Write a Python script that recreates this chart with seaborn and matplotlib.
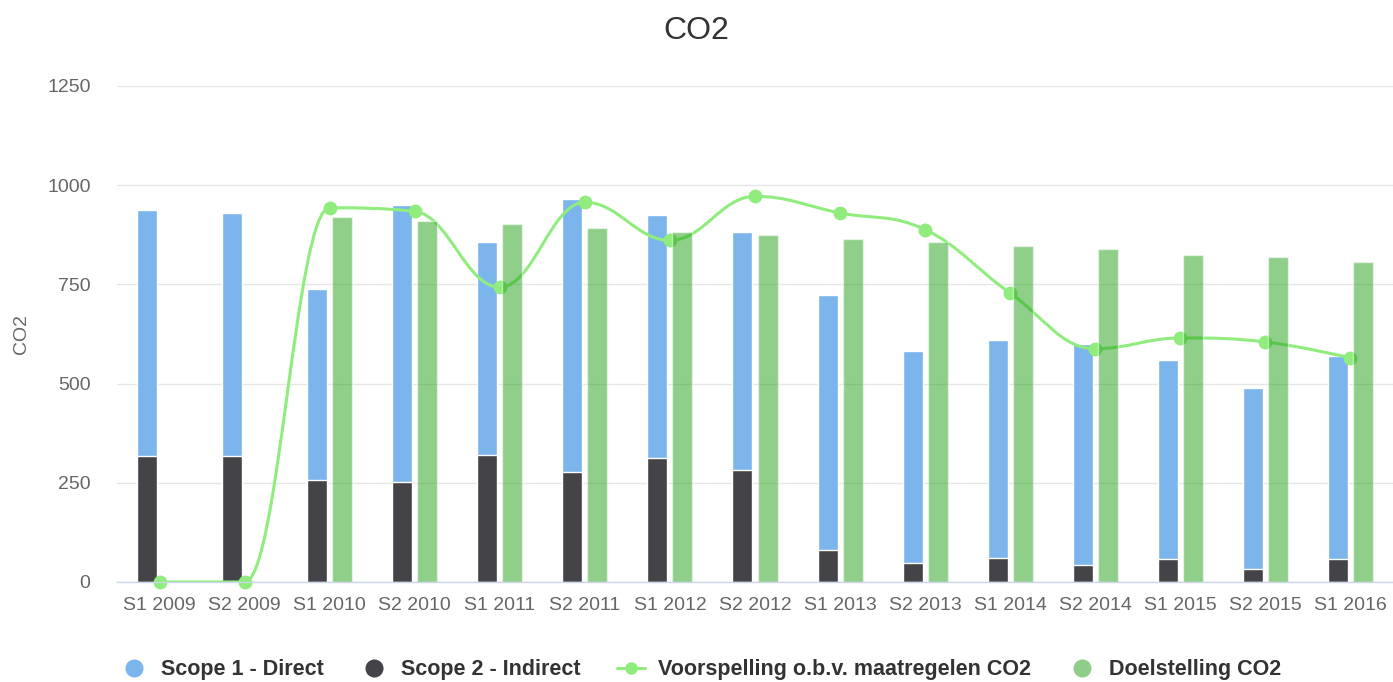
"""CO2-uitstoot per halfjaar: scope 1 en 2 gestapeld, met voorspelling en doelstelling."""

import matplotlib

matplotlib.use("Agg")

import matplotlib.pyplot as plt
import numpy as np
import pandas as pd
import seaborn as sns
from matplotlib.lines import Line2D
from matplotlib.patches import PathPatch
from matplotlib.path import Path

periods = [
    "S1 2009", "S2 2009", "S1 2010", "S2 2010", "S1 2011", "S2 2011", "S1 2012",
    "S2 2012", "S1 2013", "S2 2013", "S1 2014", "S2 2014", "S1 2015", "S2 2015",
    "S1 2016",
]
scope1_direct = [621, 613, 481, 699, 535, 690, 612, 602, 643, 535, 549, 558, 503, 454, 513]
scope2_indirect = [317, 317, 257, 252, 321, 276, 313, 281, 81, 48, 61, 43, 57, 34, 57]
voorspelling = [0, 0, 943, 934, 743, 957, 861, 972, 930, 888, 728, 588, 615, 605, 565]
doelstelling = [np.nan, np.nan, 920, 911, 902, 893, 883, 875, 865, 857, 847, 838, 824, 820, 806]
y_ticks = [0, 250, 500, 750, 1000, 1250]

BLUE = "#7cb5ec"
DARK = "#434348"
LINE_GREEN = "#90ed7d"
BAR_GREEN = (0.13, 0.63, 0.09)
TEXT = "#333333"
LABEL = "#666666"
AXIS = "#ccd6eb"


def spline_path(xs, ys, smoothing=1.5):
    """Bezier path through the points, same control point rule as a Highcharts spline."""
    denom = smoothing + 1
    n = len(xs)
    right = [None] * n
    left = [None] * n
    for i in range(1, n - 1):
        px, py = xs[i], ys[i]
        lx, ly = xs[i - 1], ys[i - 1]
        nx, ny = xs[i + 1], ys[i + 1]
        lcx = (smoothing * px + lx) / denom
        lcy = (smoothing * py + ly) / denom
        rcx = (smoothing * px + nx) / denom
        rcy = (smoothing * py + ny) / denom
        corr = ((rcy - lcy) * (rcx - px)) / (rcx - lcx) + py - rcy
        lcy += corr
        rcy += corr
        if lcy > ly and lcy > py:
            lcy = max(ly, py)
            rcy = 2 * py - lcy
        elif lcy < ly and lcy < py:
            lcy = min(ly, py)
            rcy = 2 * py - lcy
        if rcy > ny and rcy > py:
            rcy = max(ny, py)
            lcy = 2 * py - rcy
        elif rcy < ny and rcy < py:
            rcy = min(ny, py)
            lcy = 2 * py - rcy
        left[i] = (lcx, lcy)
        right[i] = (rcx, rcy)

    verts = [(xs[0], ys[0])]
    codes = [Path.MOVETO]
    for i in range(1, n):
        c1 = right[i - 1] or (xs[i - 1], ys[i - 1])
        c2 = left[i] or (xs[i], ys[i])
        verts += [c1, c2, (xs[i], ys[i])]
        codes += [Path.CURVE4] * 3
    return Path(verts, codes)


sns.set_style("white")
plt.rcParams["font.family"] = ["Liberation Sans", "DejaVu Sans"]

totals = [a + b for a, b in zip(scope1_direct, scope2_indirect)]
hue_order = ["Uitstoot", "Doelstelling"]
bar_kws = dict(
    x="Periode", y="Waarde", hue="Reeks", hue_order=hue_order, order=periods,
    width=0.588, gap=0.2, dodge=True, saturation=1, errorbar=None, legend=False,
    edgecolor="white", linewidth=1,
)

total_df = pd.DataFrame({"Periode": periods, "Waarde": totals, "Reeks": "Uitstoot"})
scope2_df = pd.DataFrame({"Periode": periods, "Waarde": scope2_indirect, "Reeks": "Uitstoot"})
doel_df = pd.DataFrame(
    {"Periode": periods, "Waarde": doelstelling, "Reeks": "Doelstelling"}
).dropna()

fig = plt.figure(figsize=(13.93, 6.82), dpi=100)
ax = fig.add_axes([117 / 1393, 100 / 682, 1 - 117 / 1393, 496 / 682])

sns.barplot(data=total_df, palette={"Uitstoot": BLUE, "Doelstelling": BAR_GREEN},
            zorder=2, ax=ax, **bar_kws)
sns.barplot(data=scope2_df, palette={"Uitstoot": DARK, "Doelstelling": BAR_GREEN},
            zorder=2.1, ax=ax, **bar_kws)
sns.barplot(data=doel_df, palette={"Uitstoot": BLUE, "Doelstelling": BAR_GREEN},
            alpha=0.5, zorder=4, ax=ax, **bar_kws)

x_pos = np.arange(len(periods))
ax.add_patch(PathPatch(spline_path(list(x_pos), voorspelling), facecolor="none",
                       edgecolor=LINE_GREEN, linewidth=2.2, zorder=3))
ax.plot(x_pos, voorspelling, linestyle="none", marker="o", markersize=10,
        color=LINE_GREEN, markeredgewidth=0, zorder=3.5, clip_on=False)

ax.set_xlim(-0.5, len(periods) - 0.5)
ax.set_ylim(0, 1250)
ax.set_yticks(y_ticks)
ax.yaxis.grid(True, color="#e6e6e6", linewidth=1)
ax.set_axisbelow(True)
for side in ["left", "right", "top"]:
    ax.spines[side].set_visible(False)
ax.spines["bottom"].set_color(AXIS)
ax.spines["bottom"].set_linewidth(1)
ax.spines["bottom"].set_zorder(5)

ax.set_xticks(x_pos)
ax.set_xticklabels(periods)
ax.set_xticks(np.arange(-0.5, len(periods)), minor=True)
ax.tick_params(axis="x", which="major", length=0, pad=11, labelsize=14, labelcolor=LABEL)
ax.tick_params(axis="x", which="minor", length=7.5, width=1, color=AXIS, direction="out")
ax.tick_params(axis="y", length=0, pad=19, labelsize=14, labelcolor=LABEL)

ax.set_xlabel("")
ax.set_ylabel("CO2", fontsize=14, color=LABEL, labelpad=12)
fig.text(0.5, 1 - 31 / 682, "CO2", ha="center", va="center", fontsize=23, color=TEXT)

handles = [
    Line2D([], [], marker="o", linestyle="none", markersize=13, color=BLUE, markeredgewidth=0),
    Line2D([], [], marker="o", linestyle="none", markersize=13, color=DARK, markeredgewidth=0),
    Line2D([], [], marker="o", linestyle="-", linewidth=2.2, markersize=9,
           color=LINE_GREEN, markeredgewidth=0),
    Line2D([], [], marker="o", linestyle="none", markersize=13, color="#8fce8a",
           markeredgewidth=0),
]
labels = ["Scope 1 - Direct", "Scope 2 - Indirect",
          "Voorspelling o.b.v. maatregelen CO2", "Doelstelling CO2"]
fig.legend(handles, labels, loc="center", bbox_to_anchor=(0.503, 1 - 670 / 682), ncol=4,
           frameon=False, prop={"weight": "bold", "size": 15.5}, labelcolor=TEXT,
           handlelength=1.3, handletextpad=0.6, columnspacing=1.7)

fig.savefig("out.png", dpi=100)
